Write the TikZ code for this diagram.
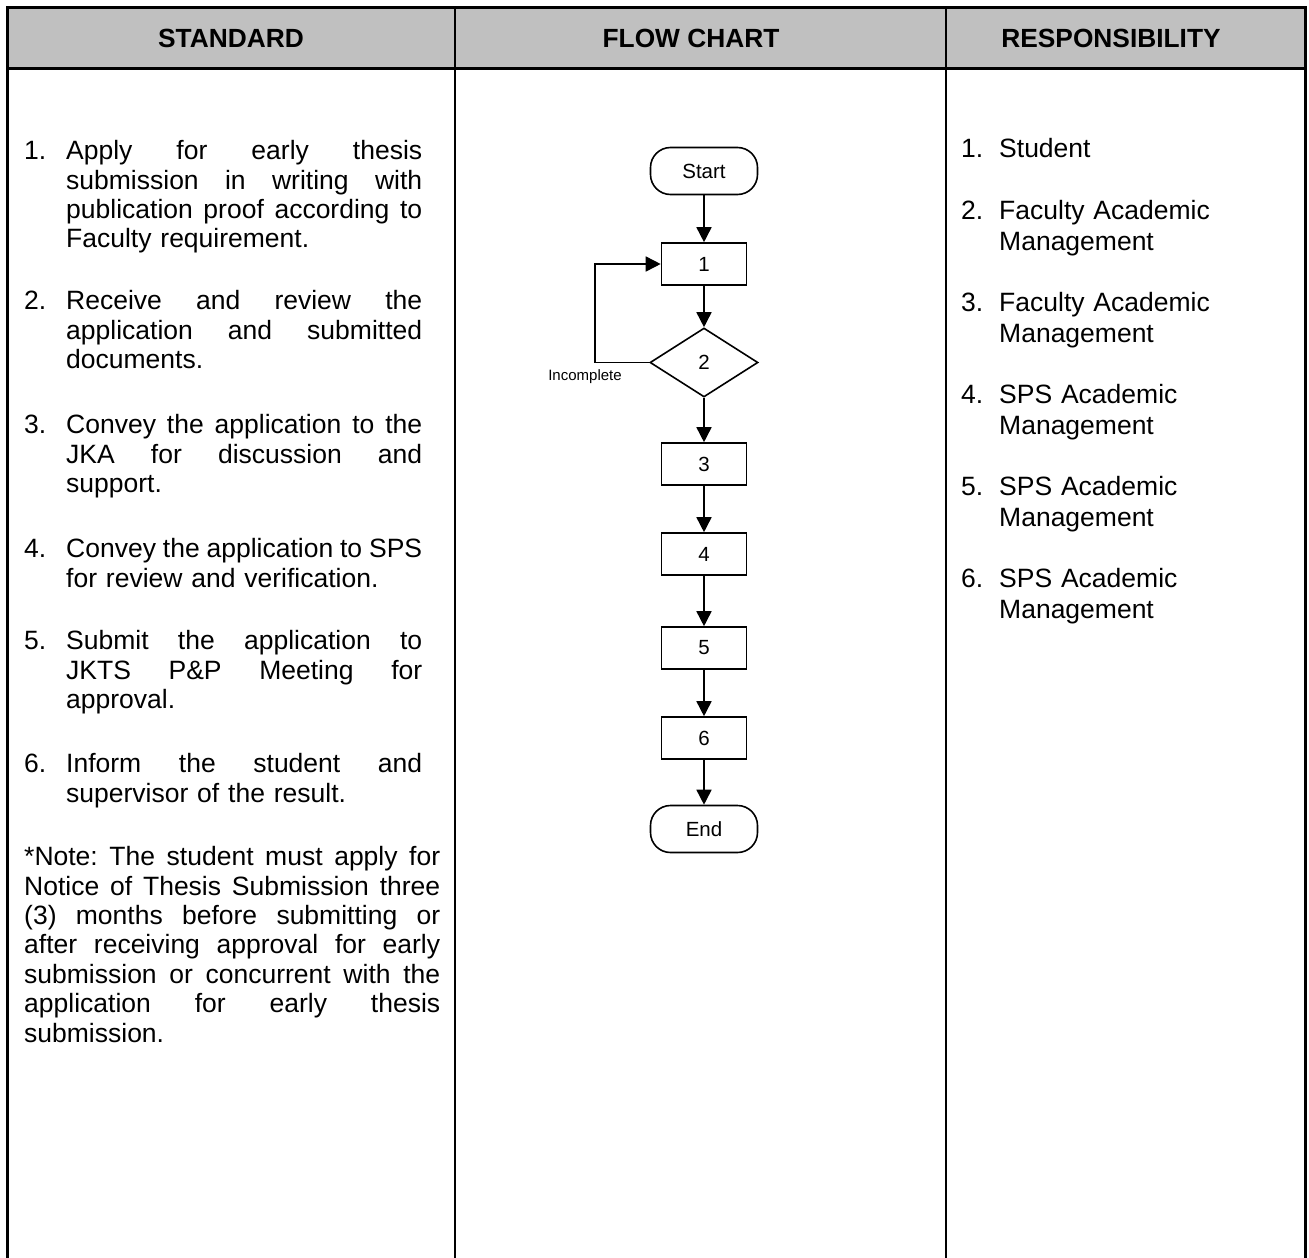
\documentclass[tikz,border=0pt]{standalone}
\usepackage{fontspec}
\setmainfont{Liberation Sans}
\usetikzlibrary{shapes.geometric,arrows.meta}
\frenchspacing
\newcommand\jline[2]{\makebox[#1][s]{\spaceskip=0pt\xspaceskip=0pt\relax #2}}
\newcommand\fst{\rule{0pt}{20pt}}
\begin{document}
\begin{tikzpicture}[x=1pt,y=-1pt,
  body/.style={anchor=north west, inner sep=0pt, text width=430pt, align=left, font=\fontsize{26.5}{29.4}\selectfont},
  resp/.style={anchor=north west, inner sep=0pt, text width=300pt, align=left, font=\fontsize{26.5}{31}\selectfont},
  hdr/.style={font=\fontsize{26.3}{30}\selectfont\bfseries, inner sep=0pt},
  fc/.style={font=\fontsize{20.5}{23}\selectfont, inner sep=0pt, line width=1.6pt},
  term/.style={fc, draw, rounded corners=20pt, minimum width=107pt, minimum height=47pt},
  proc/.style={fc, draw, minimum width=85pt, minimum height=42pt},
  dec/.style={fc, draw, diamond, aspect=1.565, minimum width=108pt, minimum height=69pt},
  arr/.style={line width=1.6pt, -{Triangle[length=15pt,width=15pt]}},
  outerline/.style={line width=3pt},
  innerline/.style={line width=1.5pt}
]
\useasboundingbox (0,0) rectangle (1309,1258);

% table
\fill[fill={rgb,255:red,192;green,192;blue,192}] (7,7) rectangle (1305,68);
\draw[innerline] (455,7) -- (455,1262);
\draw[innerline] (946,7) -- (946,1262);
\draw[outerline] (7,68) -- (1305,68);
\draw[outerline] (7,1262) -- (7,7) -- (1305,7) -- (1305,1262);

% headers
\node[hdr] (h1) at (231,38.5) {STANDARD};
\node[hdr] (h2) at (691,38.5) {FLOW CHART};
\node[hdr] (h3) at (1111,38.5) {RESPONSIBILITY};

% standard column
\node[body] (n1) at (24,139.5) {\fst 1.};
\node[body] (s1) at (66,139.5) {\fst\jline{356pt}{Apply for early thesis}\\
\jline{356pt}{submission in writing with}\\
\jline{356pt}{publication proof according to}\\
Faculty requirement.};
\node[body] (n2) at (24,289.5) {\fst 2.};
\node[body] (s2) at (66,289.5) {\fst\jline{356pt}{Receive and review the}\\
\jline{356pt}{application and submitted}\\
documents.};
\node[body] (n3) at (24,413.5) {\fst 3.};
\node[body] (s3) at (66,413.5) {\fst\jline{356pt}{Convey the application to the}\\
\jline{356pt}{JKA for discussion and}\\
support.};
\node[body] (n4) at (24,537.5) {\fst 4.};
\node[body] (s4) at (66,537.5) {\fst\jline{356pt}{Convey the application to SPS}\\
for review and verification.};
\node[body] (n5) at (24,629.5) {\fst 5.};
\node[body] (s5) at (66,629.5) {\fst\jline{356pt}{Submit the application to}\\
\jline{356pt}{JKTS P\&P Meeting for}\\
approval.};
\node[body] (n6) at (24,752.5) {\fst 6.};
\node[body] (s6) at (66,752.5) {\fst\jline{356pt}{Inform the student and}\\
supervisor of the result.};
\node[body] (note) at (24,845.5) {\fst\jline{416pt}{*Note: The student must apply for}\\
\jline{416pt}{Notice of Thesis Submission three}\\
\jline{416pt}{(3) months before submitting or}\\
\jline{416pt}{after receiving approval for early}\\
\jline{416pt}{submission or concurrent with the}\\
\jline{416pt}{application for early thesis}\\
submission.};

% responsibility column
\node[resp] (rn1) at (961,137.5) {\fst 1.};
\node[resp] (r1) at (999,137.5) {\fst Student};
\node[resp] (rn2) at (961,199.5) {\fst 2.};
\node[resp] (r2) at (999,199.5) {\fst Faculty Academic\\Management};
\node[resp] (rn3) at (961,291.5) {\fst 3.};
\node[resp] (r3) at (999,291.5) {\fst Faculty Academic\\Management};
\node[resp] (rn4) at (961,383.5) {\fst 4.};
\node[resp] (r4) at (999,383.5) {\fst SPS Academic\\Management};
\node[resp] (rn5) at (961,475.5) {\fst 5.};
\node[resp] (r5) at (999,475.5) {\fst SPS Academic\\Management};
\node[resp] (rn6) at (961,567.5) {\fst 6.};
\node[resp] (r6) at (999,567.5) {\fst SPS Academic\\Management};

% flow chart
\node[term] (start) at (704,171) {Start};
\node[proc] (p1) at (704,264) {1};
\node[dec] (d2) at (704,362.5) {2};
\node[proc] (p3) at (704,464) {3};
\node[proc] (p4) at (704,554) {4};
\node[proc] (p5) at (704,648) {5};
\node[proc] (p6) at (704,738) {6};
\node[term] (end) at (704,829) {End};

\draw[arr] (start) -- (p1);
\draw[arr] (p1) -- (d2);
\draw[arr] (d2) -- (p3);
\draw[arr] (p3) -- (p4);
\draw[arr] (p4) -- (p5);
\draw[arr] (p5) -- (p6);
\draw[arr] (p6) -- (end);
\draw[arr] (d2.west) -- ++(-54,0) coordinate (lc) |- (p1.west);
\node[font=\fontsize{15}{18}\selectfont, inner sep=0pt] (inc) at (585,377) {Incomplete};
\end{tikzpicture}
\end{document}
